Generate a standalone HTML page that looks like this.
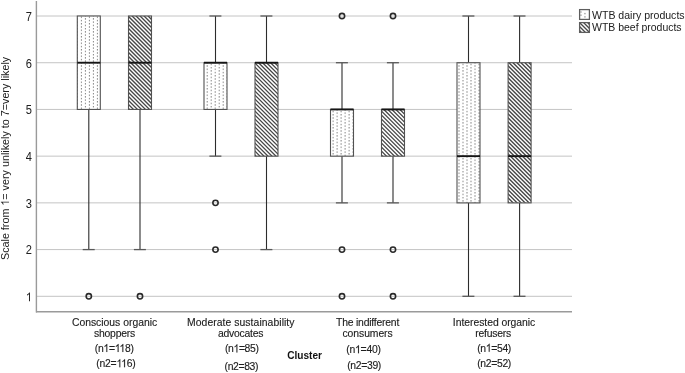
<!DOCTYPE html>
<html><head><meta charset="utf-8"><style>
html,body{margin:0;padding:0;background:#fff;width:685px;height:373px;overflow:hidden}
svg{display:block;will-change:transform;filter:blur(0.35px)}
text{font-family:"Liberation Sans", sans-serif}
</style></head><body>
<svg width="685" height="373" viewBox="0 0 685 373">
<defs>
<pattern id="dots0" patternUnits="userSpaceOnUse" width="8" height="3.25" x="0.90" y="0.3"><rect x="0" y="0" width="1" height="1.4" fill="#7d7d7d"></rect><rect x="4" y="1.625" width="1" height="1.4" fill="#7d7d7d"></rect></pattern>
<pattern id="dots1" patternUnits="userSpaceOnUse" width="8" height="3.25" x="6.70" y="0.3"><rect x="0" y="0" width="1" height="1.4" fill="#7d7d7d"></rect><rect x="4" y="1.625" width="1" height="1.4" fill="#7d7d7d"></rect></pattern>
<pattern id="dots2" patternUnits="userSpaceOnUse" width="8" height="3.25" x="4.60" y="0.3"><rect x="0" y="0" width="1" height="1.4" fill="#7d7d7d"></rect><rect x="4" y="1.625" width="1" height="1.4" fill="#7d7d7d"></rect></pattern>
<pattern id="dots3" patternUnits="userSpaceOnUse" width="8" height="3.25" x="2.50" y="0.3"><rect x="0" y="0" width="1" height="1.4" fill="#7d7d7d"></rect><rect x="4" y="1.625" width="1" height="1.4" fill="#7d7d7d"></rect></pattern>
</defs>
<rect width="685" height="373" fill="#fff"></rect>
<line x1="36.5" y1="296.30" x2="572" y2="296.30" stroke="#c4c4c4" stroke-width="1"></line>
<line x1="36.5" y1="249.58" x2="572" y2="249.58" stroke="#c4c4c4" stroke-width="1"></line>
<line x1="36.5" y1="202.87" x2="572" y2="202.87" stroke="#c4c4c4" stroke-width="1"></line>
<line x1="36.5" y1="156.15" x2="572" y2="156.15" stroke="#c4c4c4" stroke-width="1"></line>
<line x1="36.5" y1="109.43" x2="572" y2="109.43" stroke="#c4c4c4" stroke-width="1"></line>
<line x1="36.5" y1="62.72" x2="572" y2="62.72" stroke="#c4c4c4" stroke-width="1"></line>
<line x1="36.5" y1="16.00" x2="572" y2="16.00" stroke="#c4c4c4" stroke-width="1"></line>
<line x1="36.4" y1="1" x2="36.4" y2="312.4" stroke="#9a9a9a" stroke-width="1.4"></line>
<line x1="36" y1="311.75" x2="572" y2="311.75" stroke="#9a9a9a" stroke-width="1.4"></line>
<text transform="translate(32.00,301.20) scale(1,1.1)" text-anchor="start" font-size="11.1" fill="#202020" x="-6.17" y="0.00"> </text><path d="M763 0H583V1147Q518 1085 412.5 1023T223 930V1104Q374 1175 487 1276T647 1472H763Z" fill="#202020" transform="translate(32.00,301.20) scale(1,1.1) translate(-6.17,0.00) scale(0.005420,-0.005420)"></path>
<text transform="translate(32.00,254.48) scale(1,1.1)" text-anchor="end" font-size="11.1" fill="#202020">2</text>
<text transform="translate(32.00,207.77) scale(1,1.1)" text-anchor="end" font-size="11.1" fill="#202020">3</text>
<text transform="translate(32.00,161.05) scale(1,1.1)" text-anchor="end" font-size="11.1" fill="#202020">4</text>
<text transform="translate(32.00,114.33) scale(1,1.1)" text-anchor="end" font-size="11.1" fill="#202020">5</text>
<text transform="translate(32.00,67.62) scale(1,1.1)" text-anchor="end" font-size="11.1" fill="#202020">6</text>
<text transform="translate(32.00,20.90) scale(1,1.1)" text-anchor="end" font-size="11.1" fill="#202020">7</text>
<line x1="88.8" y1="109.43333333333334" x2="88.8" y2="249.58333333333334" stroke="#2c2c2c" stroke-width="1.1"></line>
<line x1="82.7" y1="249.58333333333334" x2="94.7" y2="249.58333333333334" stroke="#585858" stroke-width="1.3"></line>
<rect x="77.3" y="16.0" width="23" height="93.43333333333334" fill="#fff"></rect>
<rect x="77.3" y="16.0" width="23" height="93.43333333333334" fill="url(#dots0)"></rect>
<rect x="77.3" y="16.0" width="23" height="93.43333333333334" fill="none" stroke="#525252" stroke-width="1.1"></rect>
<line x1="77.3" y1="62.71666666666667" x2="100.3" y2="62.71666666666667" stroke="#151515" stroke-width="1.9"></line>
<circle cx="88.8" cy="296.3" r="2.65" fill="none" stroke="#2a2a2a" stroke-width="1.6"></circle>
<line x1="140.0" y1="109.43333333333334" x2="140.0" y2="249.58333333333334" stroke="#2c2c2c" stroke-width="1.1"></line>
<line x1="133.9" y1="249.58333333333334" x2="145.9" y2="249.58333333333334" stroke="#585858" stroke-width="1.3"></line>
<rect x="128.5" y="16.0" width="23" height="93.43333333333334" fill="#fff"></rect>
<clipPath id="c1"><rect x="128.5" y="16.0" width="23" height="93.43333333333334"></rect></clipPath>
<path clip-path="url(#c1)" d="M35.07,15.00L130.50,110.43M39.07,15.00L134.50,110.43M43.07,15.00L138.50,110.43M47.07,15.00L142.50,110.43M51.07,15.00L146.50,110.43M55.07,15.00L150.50,110.43M59.07,15.00L154.50,110.43M63.07,15.00L158.50,110.43M67.07,15.00L162.50,110.43M71.07,15.00L166.50,110.43M75.07,15.00L170.50,110.43M79.07,15.00L174.50,110.43M83.07,15.00L178.50,110.43M87.07,15.00L182.50,110.43M91.07,15.00L186.50,110.43M95.07,15.00L190.50,110.43M99.07,15.00L194.50,110.43M103.07,15.00L198.50,110.43M107.07,15.00L202.50,110.43M111.07,15.00L206.50,110.43M115.07,15.00L210.50,110.43M119.07,15.00L214.50,110.43M123.07,15.00L218.50,110.43M127.07,15.00L222.50,110.43M131.07,15.00L226.50,110.43M135.07,15.00L230.50,110.43M139.07,15.00L234.50,110.43M143.07,15.00L238.50,110.43M147.07,15.00L242.50,110.43M151.07,15.00L246.50,110.43" stroke="#474747" stroke-width="1.35" fill="none"></path>
<rect x="128.5" y="16.0" width="23" height="93.43333333333334" fill="none" stroke="#525252" stroke-width="1.1"></rect>
<line x1="128.5" y1="62.71666666666667" x2="151.5" y2="62.71666666666667" stroke="#151515" stroke-width="1.9"></line>
<circle cx="140.0" cy="296.3" r="2.65" fill="none" stroke="#2a2a2a" stroke-width="1.6"></circle>
<line x1="215.5" y1="16.0" x2="215.5" y2="62.71666666666667" stroke="#2c2c2c" stroke-width="1.1"></line>
<line x1="209.4" y1="16.0" x2="221.4" y2="16.0" stroke="#585858" stroke-width="1.3"></line>
<line x1="215.5" y1="109.43333333333334" x2="215.5" y2="156.15" stroke="#2c2c2c" stroke-width="1.1"></line>
<line x1="209.4" y1="156.15" x2="221.4" y2="156.15" stroke="#585858" stroke-width="1.3"></line>
<rect x="204.0" y="62.71666666666667" width="23" height="46.71666666666667" fill="#fff"></rect>
<rect x="204.0" y="62.71666666666667" width="23" height="46.71666666666667" fill="url(#dots1)"></rect>
<rect x="204.0" y="62.71666666666667" width="23" height="46.71666666666667" fill="none" stroke="#525252" stroke-width="1.1"></rect>
<line x1="204.0" y1="62.71666666666667" x2="227.0" y2="62.71666666666667" stroke="#151515" stroke-width="1.9"></line>
<circle cx="215.5" cy="202.86666666666667" r="2.65" fill="none" stroke="#2a2a2a" stroke-width="1.6"></circle>
<circle cx="215.5" cy="249.58333333333334" r="2.65" fill="none" stroke="#2a2a2a" stroke-width="1.6"></circle>
<line x1="266.5" y1="16.0" x2="266.5" y2="62.71666666666667" stroke="#2c2c2c" stroke-width="1.1"></line>
<line x1="260.4" y1="16.0" x2="272.4" y2="16.0" stroke="#585858" stroke-width="1.3"></line>
<line x1="266.5" y1="156.15" x2="266.5" y2="249.58333333333334" stroke="#2c2c2c" stroke-width="1.1"></line>
<line x1="260.4" y1="249.58333333333334" x2="272.4" y2="249.58333333333334" stroke="#585858" stroke-width="1.3"></line>
<rect x="255.0" y="62.71666666666667" width="23" height="93.43333333333334" fill="#fff"></rect>
<clipPath id="c2"><rect x="255.0" y="62.71666666666667" width="23" height="93.43333333333334"></rect></clipPath>
<path clip-path="url(#c2)" d="M161.57,61.72L257.00,157.15M165.57,61.72L261.00,157.15M169.57,61.72L265.00,157.15M173.57,61.72L269.00,157.15M177.57,61.72L273.00,157.15M181.57,61.72L277.00,157.15M185.57,61.72L281.00,157.15M189.57,61.72L285.00,157.15M193.57,61.72L289.00,157.15M197.57,61.72L293.00,157.15M201.57,61.72L297.00,157.15M205.57,61.72L301.00,157.15M209.57,61.72L305.00,157.15M213.57,61.72L309.00,157.15M217.57,61.72L313.00,157.15M221.57,61.72L317.00,157.15M225.57,61.72L321.00,157.15M229.57,61.72L325.00,157.15M233.57,61.72L329.00,157.15M237.57,61.72L333.00,157.15M241.57,61.72L337.00,157.15M245.57,61.72L341.00,157.15M249.57,61.72L345.00,157.15M253.57,61.72L349.00,157.15M257.57,61.72L353.00,157.15M261.57,61.72L357.00,157.15M265.57,61.72L361.00,157.15M269.57,61.72L365.00,157.15M273.57,61.72L369.00,157.15M277.57,61.72L373.00,157.15" stroke="#474747" stroke-width="1.35" fill="none"></path>
<rect x="255.0" y="62.71666666666667" width="23" height="93.43333333333334" fill="none" stroke="#525252" stroke-width="1.1"></rect>
<line x1="255.0" y1="62.71666666666667" x2="278.0" y2="62.71666666666667" stroke="#151515" stroke-width="1.9"></line>
<line x1="342.0" y1="62.71666666666667" x2="342.0" y2="109.43333333333334" stroke="#2c2c2c" stroke-width="1.1"></line>
<line x1="335.9" y1="62.71666666666667" x2="347.9" y2="62.71666666666667" stroke="#585858" stroke-width="1.3"></line>
<line x1="342.0" y1="156.15" x2="342.0" y2="202.86666666666667" stroke="#2c2c2c" stroke-width="1.1"></line>
<line x1="335.9" y1="202.86666666666667" x2="347.9" y2="202.86666666666667" stroke="#585858" stroke-width="1.3"></line>
<rect x="330.5" y="109.43333333333334" width="23" height="46.71666666666667" fill="#fff"></rect>
<rect x="330.5" y="109.43333333333334" width="23" height="46.71666666666667" fill="url(#dots2)"></rect>
<rect x="330.5" y="109.43333333333334" width="23" height="46.71666666666667" fill="none" stroke="#525252" stroke-width="1.1"></rect>
<line x1="330.5" y1="109.43333333333334" x2="353.5" y2="109.43333333333334" stroke="#151515" stroke-width="1.9"></line>
<circle cx="342.0" cy="16.0" r="2.65" fill="none" stroke="#2a2a2a" stroke-width="1.6"></circle>
<circle cx="342.0" cy="249.58333333333334" r="2.65" fill="none" stroke="#2a2a2a" stroke-width="1.6"></circle>
<circle cx="342.0" cy="296.3" r="2.65" fill="none" stroke="#2a2a2a" stroke-width="1.6"></circle>
<line x1="393.0" y1="62.71666666666667" x2="393.0" y2="109.43333333333334" stroke="#2c2c2c" stroke-width="1.1"></line>
<line x1="386.9" y1="62.71666666666667" x2="398.9" y2="62.71666666666667" stroke="#585858" stroke-width="1.3"></line>
<line x1="393.0" y1="156.15" x2="393.0" y2="202.86666666666667" stroke="#2c2c2c" stroke-width="1.1"></line>
<line x1="386.9" y1="202.86666666666667" x2="398.9" y2="202.86666666666667" stroke="#585858" stroke-width="1.3"></line>
<rect x="381.5" y="109.43333333333334" width="23" height="46.71666666666667" fill="#fff"></rect>
<clipPath id="c3"><rect x="381.5" y="109.43333333333334" width="23" height="46.71666666666667"></rect></clipPath>
<path clip-path="url(#c3)" d="M334.78,108.43L383.50,157.15M338.78,108.43L387.50,157.15M342.78,108.43L391.50,157.15M346.78,108.43L395.50,157.15M350.78,108.43L399.50,157.15M354.78,108.43L403.50,157.15M358.78,108.43L407.50,157.15M362.78,108.43L411.50,157.15M366.78,108.43L415.50,157.15M370.78,108.43L419.50,157.15M374.78,108.43L423.50,157.15M378.78,108.43L427.50,157.15M382.78,108.43L431.50,157.15M386.78,108.43L435.50,157.15M390.78,108.43L439.50,157.15M394.78,108.43L443.50,157.15M398.78,108.43L447.50,157.15M402.78,108.43L451.50,157.15" stroke="#474747" stroke-width="1.35" fill="none"></path>
<rect x="381.5" y="109.43333333333334" width="23" height="46.71666666666667" fill="none" stroke="#525252" stroke-width="1.1"></rect>
<line x1="381.5" y1="109.43333333333334" x2="404.5" y2="109.43333333333334" stroke="#151515" stroke-width="1.9"></line>
<circle cx="393.0" cy="16.0" r="2.65" fill="none" stroke="#2a2a2a" stroke-width="1.6"></circle>
<circle cx="393.0" cy="249.58333333333334" r="2.65" fill="none" stroke="#2a2a2a" stroke-width="1.6"></circle>
<circle cx="393.0" cy="296.3" r="2.65" fill="none" stroke="#2a2a2a" stroke-width="1.6"></circle>
<line x1="468.5" y1="16.0" x2="468.5" y2="62.71666666666667" stroke="#2c2c2c" stroke-width="1.1"></line>
<line x1="462.4" y1="16.0" x2="474.4" y2="16.0" stroke="#585858" stroke-width="1.3"></line>
<line x1="468.5" y1="202.86666666666667" x2="468.5" y2="296.3" stroke="#2c2c2c" stroke-width="1.1"></line>
<line x1="462.4" y1="296.3" x2="474.4" y2="296.3" stroke="#585858" stroke-width="1.3"></line>
<rect x="457.0" y="62.71666666666667" width="23" height="140.15" fill="#fff"></rect>
<rect x="457.0" y="62.71666666666667" width="23" height="140.15" fill="url(#dots3)"></rect>
<rect x="457.0" y="62.71666666666667" width="23" height="140.15" fill="none" stroke="#525252" stroke-width="1.1"></rect>
<line x1="457.0" y1="156.15" x2="480.0" y2="156.15" stroke="#151515" stroke-width="1.9"></line>
<line x1="519.6" y1="16.0" x2="519.6" y2="62.71666666666667" stroke="#2c2c2c" stroke-width="1.1"></line>
<line x1="513.5" y1="16.0" x2="525.5" y2="16.0" stroke="#585858" stroke-width="1.3"></line>
<line x1="519.6" y1="202.86666666666667" x2="519.6" y2="296.3" stroke="#2c2c2c" stroke-width="1.1"></line>
<line x1="513.5" y1="296.3" x2="525.5" y2="296.3" stroke="#585858" stroke-width="1.3"></line>
<rect x="508.1" y="62.71666666666667" width="23" height="140.15" fill="#fff"></rect>
<clipPath id="c4"><rect x="508.1" y="62.71666666666667" width="23" height="140.15"></rect></clipPath>
<path clip-path="url(#c4)" d="M367.95,61.72L510.10,203.87M371.95,61.72L514.10,203.87M375.95,61.72L518.10,203.87M379.95,61.72L522.10,203.87M383.95,61.72L526.10,203.87M387.95,61.72L530.10,203.87M391.95,61.72L534.10,203.87M395.95,61.72L538.10,203.87M399.95,61.72L542.10,203.87M403.95,61.72L546.10,203.87M407.95,61.72L550.10,203.87M411.95,61.72L554.10,203.87M415.95,61.72L558.10,203.87M419.95,61.72L562.10,203.87M423.95,61.72L566.10,203.87M427.95,61.72L570.10,203.87M431.95,61.72L574.10,203.87M435.95,61.72L578.10,203.87M439.95,61.72L582.10,203.87M443.95,61.72L586.10,203.87M447.95,61.72L590.10,203.87M451.95,61.72L594.10,203.87M455.95,61.72L598.10,203.87M459.95,61.72L602.10,203.87M463.95,61.72L606.10,203.87M467.95,61.72L610.10,203.87M471.95,61.72L614.10,203.87M475.95,61.72L618.10,203.87M479.95,61.72L622.10,203.87M483.95,61.72L626.10,203.87M487.95,61.72L630.10,203.87M491.95,61.72L634.10,203.87M495.95,61.72L638.10,203.87M499.95,61.72L642.10,203.87M503.95,61.72L646.10,203.87M507.95,61.72L650.10,203.87M511.95,61.72L654.10,203.87M515.95,61.72L658.10,203.87M519.95,61.72L662.10,203.87M523.95,61.72L666.10,203.87M527.95,61.72L670.10,203.87M531.95,61.72L674.10,203.87" stroke="#474747" stroke-width="1.35" fill="none"></path>
<rect x="508.1" y="62.71666666666667" width="23" height="140.15" fill="none" stroke="#525252" stroke-width="1.1"></rect>
<line x1="508.1" y1="156.15" x2="531.1" y2="156.15" stroke="#151515" stroke-width="1.9"></line>
<text transform="translate(114.55,325.50) scale(1,1.08)" text-anchor="middle" font-size="10.4" fill="#202020" textLength="85.31" lengthAdjust="spacing" stroke="#202020" stroke-width="0.12">Conscious organic</text>
<text transform="translate(114.60,336.60) scale(1,1.08)" text-anchor="middle" font-size="10.4" fill="#202020" textLength="41.19" lengthAdjust="spacing" stroke="#202020" stroke-width="0.12">shoppers</text>
<text transform="translate(240.75,325.60) scale(1,1.08)" text-anchor="middle" font-size="10.4" fill="#202020" textLength="107.52" lengthAdjust="spacing" stroke="#202020" stroke-width="0.12">Moderate sustainability</text>
<text transform="translate(240.70,336.60) scale(1,1.08)" text-anchor="middle" font-size="10.4" fill="#202020" textLength="45.41" lengthAdjust="spacing" stroke="#202020" stroke-width="0.12">advocates</text>
<text transform="translate(367.70,325.60) scale(1,1.08)" text-anchor="middle" font-size="10.4" fill="#202020" textLength="63.20" lengthAdjust="spacing" stroke="#202020" stroke-width="0.12">The indifferent</text>
<text transform="translate(367.60,336.60) scale(1,1.08)" text-anchor="middle" font-size="10.4" fill="#202020" textLength="50.21" lengthAdjust="spacing" stroke="#202020" stroke-width="0.12">consumers</text>
<text transform="translate(494.05,325.60) scale(1,1.08)" text-anchor="middle" font-size="10.4" fill="#202020" textLength="82.51" lengthAdjust="spacing" stroke="#202020" stroke-width="0.12">Interested organic</text>
<text transform="translate(493.25,336.60) scale(1,1.08)" text-anchor="middle" font-size="10.4" fill="#202020" textLength="35.92" lengthAdjust="spacing" stroke="#202020" stroke-width="0.12">refusers</text>
<text transform="translate(114.30,352.00) scale(1,1.08)" text-anchor="start" font-size="10.4" fill="#202020" stroke="#202020" stroke-width="0.12" x="-19.60 -16.41 -10.91 -5.41 0.39 5.13 10.63 16.13" y="0.00">(n =  8)</text><path d="M763 0H583V1147Q518 1085 412.5 1023T223 930V1104Q374 1175 487 1276T647 1472H763Z" fill="#202020" stroke="#202020" stroke-width="23.63" transform="translate(114.30,352.00) scale(1,1.08) translate(5.13,0.00) scale(0.005078,-0.005078)"></path><path d="M763 0H583V1147Q518 1085 412.5 1023T223 930V1104Q374 1175 487 1276T647 1472H763Z" fill="#202020" stroke="#202020" stroke-width="23.63" transform="translate(114.30,352.00) scale(1,1.08) translate(0.39,0.00) scale(0.005078,-0.005078)"></path><path d="M763 0H583V1147Q518 1085 412.5 1023T223 930V1104Q374 1175 487 1276T647 1472H763Z" fill="#202020" stroke="#202020" stroke-width="23.63" transform="translate(114.30,352.00) scale(1,1.08) translate(-10.91,0.00) scale(0.005078,-0.005078)"></path>
<text transform="translate(116.00,367.20) scale(1,1.08)" text-anchor="start" font-size="10.4" fill="#202020" stroke="#202020" stroke-width="0.12" x="-19.70 -16.48 -10.95 -5.42 0.41 5.17 10.70 16.23" y="0.00">(n2=  6)</text><path d="M763 0H583V1147Q518 1085 412.5 1023T223 930V1104Q374 1175 487 1276T647 1472H763Z" fill="#202020" stroke="#202020" stroke-width="23.63" transform="translate(116.00,367.20) scale(1,1.08) translate(5.17,0.00) scale(0.005078,-0.005078)"></path><path d="M763 0H583V1147Q518 1085 412.5 1023T223 930V1104Q374 1175 487 1276T647 1472H763Z" fill="#202020" stroke="#202020" stroke-width="23.63" transform="translate(116.00,367.20) scale(1,1.08) translate(0.41,0.00) scale(0.005078,-0.005078)"></path>
<text transform="translate(241.95,352.40) scale(1,1.08)" text-anchor="start" font-size="10.4" fill="#202020" stroke="#202020" stroke-width="0.12" x="-16.94 -13.85 -8.45 -3.04 2.67 8.07 13.48" y="0.00">(n =85)</text><path d="M763 0H583V1147Q518 1085 412.5 1023T223 930V1104Q374 1175 487 1276T647 1472H763Z" fill="#202020" stroke="#202020" stroke-width="23.63" transform="translate(241.95,352.40) scale(1,1.08) translate(-8.45,0.00) scale(0.005078,-0.005078)"></path>
<text transform="translate(241.55,369.80) scale(1,1.08)" text-anchor="middle" font-size="10.4" fill="#202020" textLength="33.89" lengthAdjust="spacing" stroke="#202020" stroke-width="0.12">(n2=83)</text>
<text transform="translate(363.60,353.30) scale(1,1.08)" text-anchor="start" font-size="10.4" fill="#202020" stroke="#202020" stroke-width="0.12" x="-17.30 -14.08 -8.56 -3.04 2.78 8.30 13.83" y="0.00">(n =40)</text><path d="M763 0H583V1147Q518 1085 412.5 1023T223 930V1104Q374 1175 487 1276T647 1472H763Z" fill="#202020" stroke="#202020" stroke-width="23.63" transform="translate(363.60,353.30) scale(1,1.08) translate(-8.56,0.00) scale(0.005078,-0.005078)"></path>
<text transform="translate(364.25,368.80) scale(1,1.08)" text-anchor="middle" font-size="10.4" fill="#202020" textLength="34.09" lengthAdjust="spacing" stroke="#202020" stroke-width="0.12">(n2=39)</text>
<text transform="translate(494.25,351.80) scale(1,1.08)" text-anchor="start" font-size="10.4" fill="#202020" stroke="#202020" stroke-width="0.12" x="-17.05 -13.92 -8.48 -3.04 2.70 8.14 13.58" y="0.00">(n =54)</text><path d="M763 0H583V1147Q518 1085 412.5 1023T223 930V1104Q374 1175 487 1276T647 1472H763Z" fill="#202020" stroke="#202020" stroke-width="23.63" transform="translate(494.25,351.80) scale(1,1.08) translate(-8.48,0.00) scale(0.005078,-0.005078)"></path>
<text transform="translate(494.25,366.70) scale(1,1.08)" text-anchor="middle" font-size="10.4" fill="#202020" textLength="34.09" lengthAdjust="spacing" stroke="#202020" stroke-width="0.12">(n2=52)</text>
<text transform="translate(304.60,358.90) scale(1,1.06)" text-anchor="middle" font-size="10.1" fill="#111" font-weight="bold">Cluster</text>
<text transform="translate(9.0,158.4) rotate(-90) scale(1,1.05)" text-anchor="start" font-size="10.8" fill="#202020" x="-101.65 -94.48 -89.10 -83.13 -80.73 -74.74 -71.76 -68.77 -65.18 -59.21 -50.24 -47.25 -41.26 -34.99 -31.99 -26.61 -20.63 -17.06 -11.68 -8.68 -2.70 3.29 5.68 8.06 13.44 19.43 21.81 27.19 30.19 33.18 39.15 42.14 48.13 54.41 59.79 65.77 69.36 74.74 77.73 80.12 82.50 87.88 93.87 96.26" y="0.00">Scale from  = very unlikely to 7=very likely</text><path d="M763 0H583V1147Q518 1085 412.5 1023T223 930V1104Q374 1175 487 1276T647 1472H763Z" fill="#202020" transform="translate(9.0,158.4) rotate(-90) scale(1,1.05) translate(-47.25,0.00) scale(0.005258,-0.005273)"></path>
<rect x="579.6" y="9.6" width="9.8" height="9.8" fill="#fff" stroke="#5e5e5e" stroke-width="1.25"></rect>
<rect x="580.4" y="11.3" width="1.1" height="1.4" fill="#888"></rect>
<rect x="580.4" y="14.5" width="1.1" height="1.4" fill="#888"></rect>
<rect x="584.4" y="12.9" width="1.1" height="1.4" fill="#888"></rect>
<rect x="584.4" y="16.2" width="1.1" height="1.4" fill="#888"></rect>
<rect x="580" y="23" width="9" height="9" fill="#fff"></rect>
<clipPath id="lg"><rect x="580" y="23" width="9" height="9"></rect></clipPath>
<path clip-path="url(#lg)" d="M571.00,22.00L582.00,33.00M575.00,22.00L586.00,33.00M579.00,22.00L590.00,33.00M583.00,22.00L594.00,33.00M587.00,22.00L598.00,33.00" stroke="#474747" stroke-width="1.35" fill="none"></path>
<rect x="579.6" y="22.6" width="9.8" height="9.8" fill="none" stroke="#5e5e5e" stroke-width="1.25"></rect>
<text transform="translate(592.00,18.50) scale(1,1.06)" text-anchor="start" font-size="10.5" fill="#202020" textLength="92.60" lengthAdjust="spacingAndGlyphs">WTB dairy products</text>
<text transform="translate(592.00,31.30) scale(1,1.06)" text-anchor="start" font-size="10.5" fill="#202020" textLength="89.60" lengthAdjust="spacingAndGlyphs">WTB beef products</text>
</svg>

</body></html>
